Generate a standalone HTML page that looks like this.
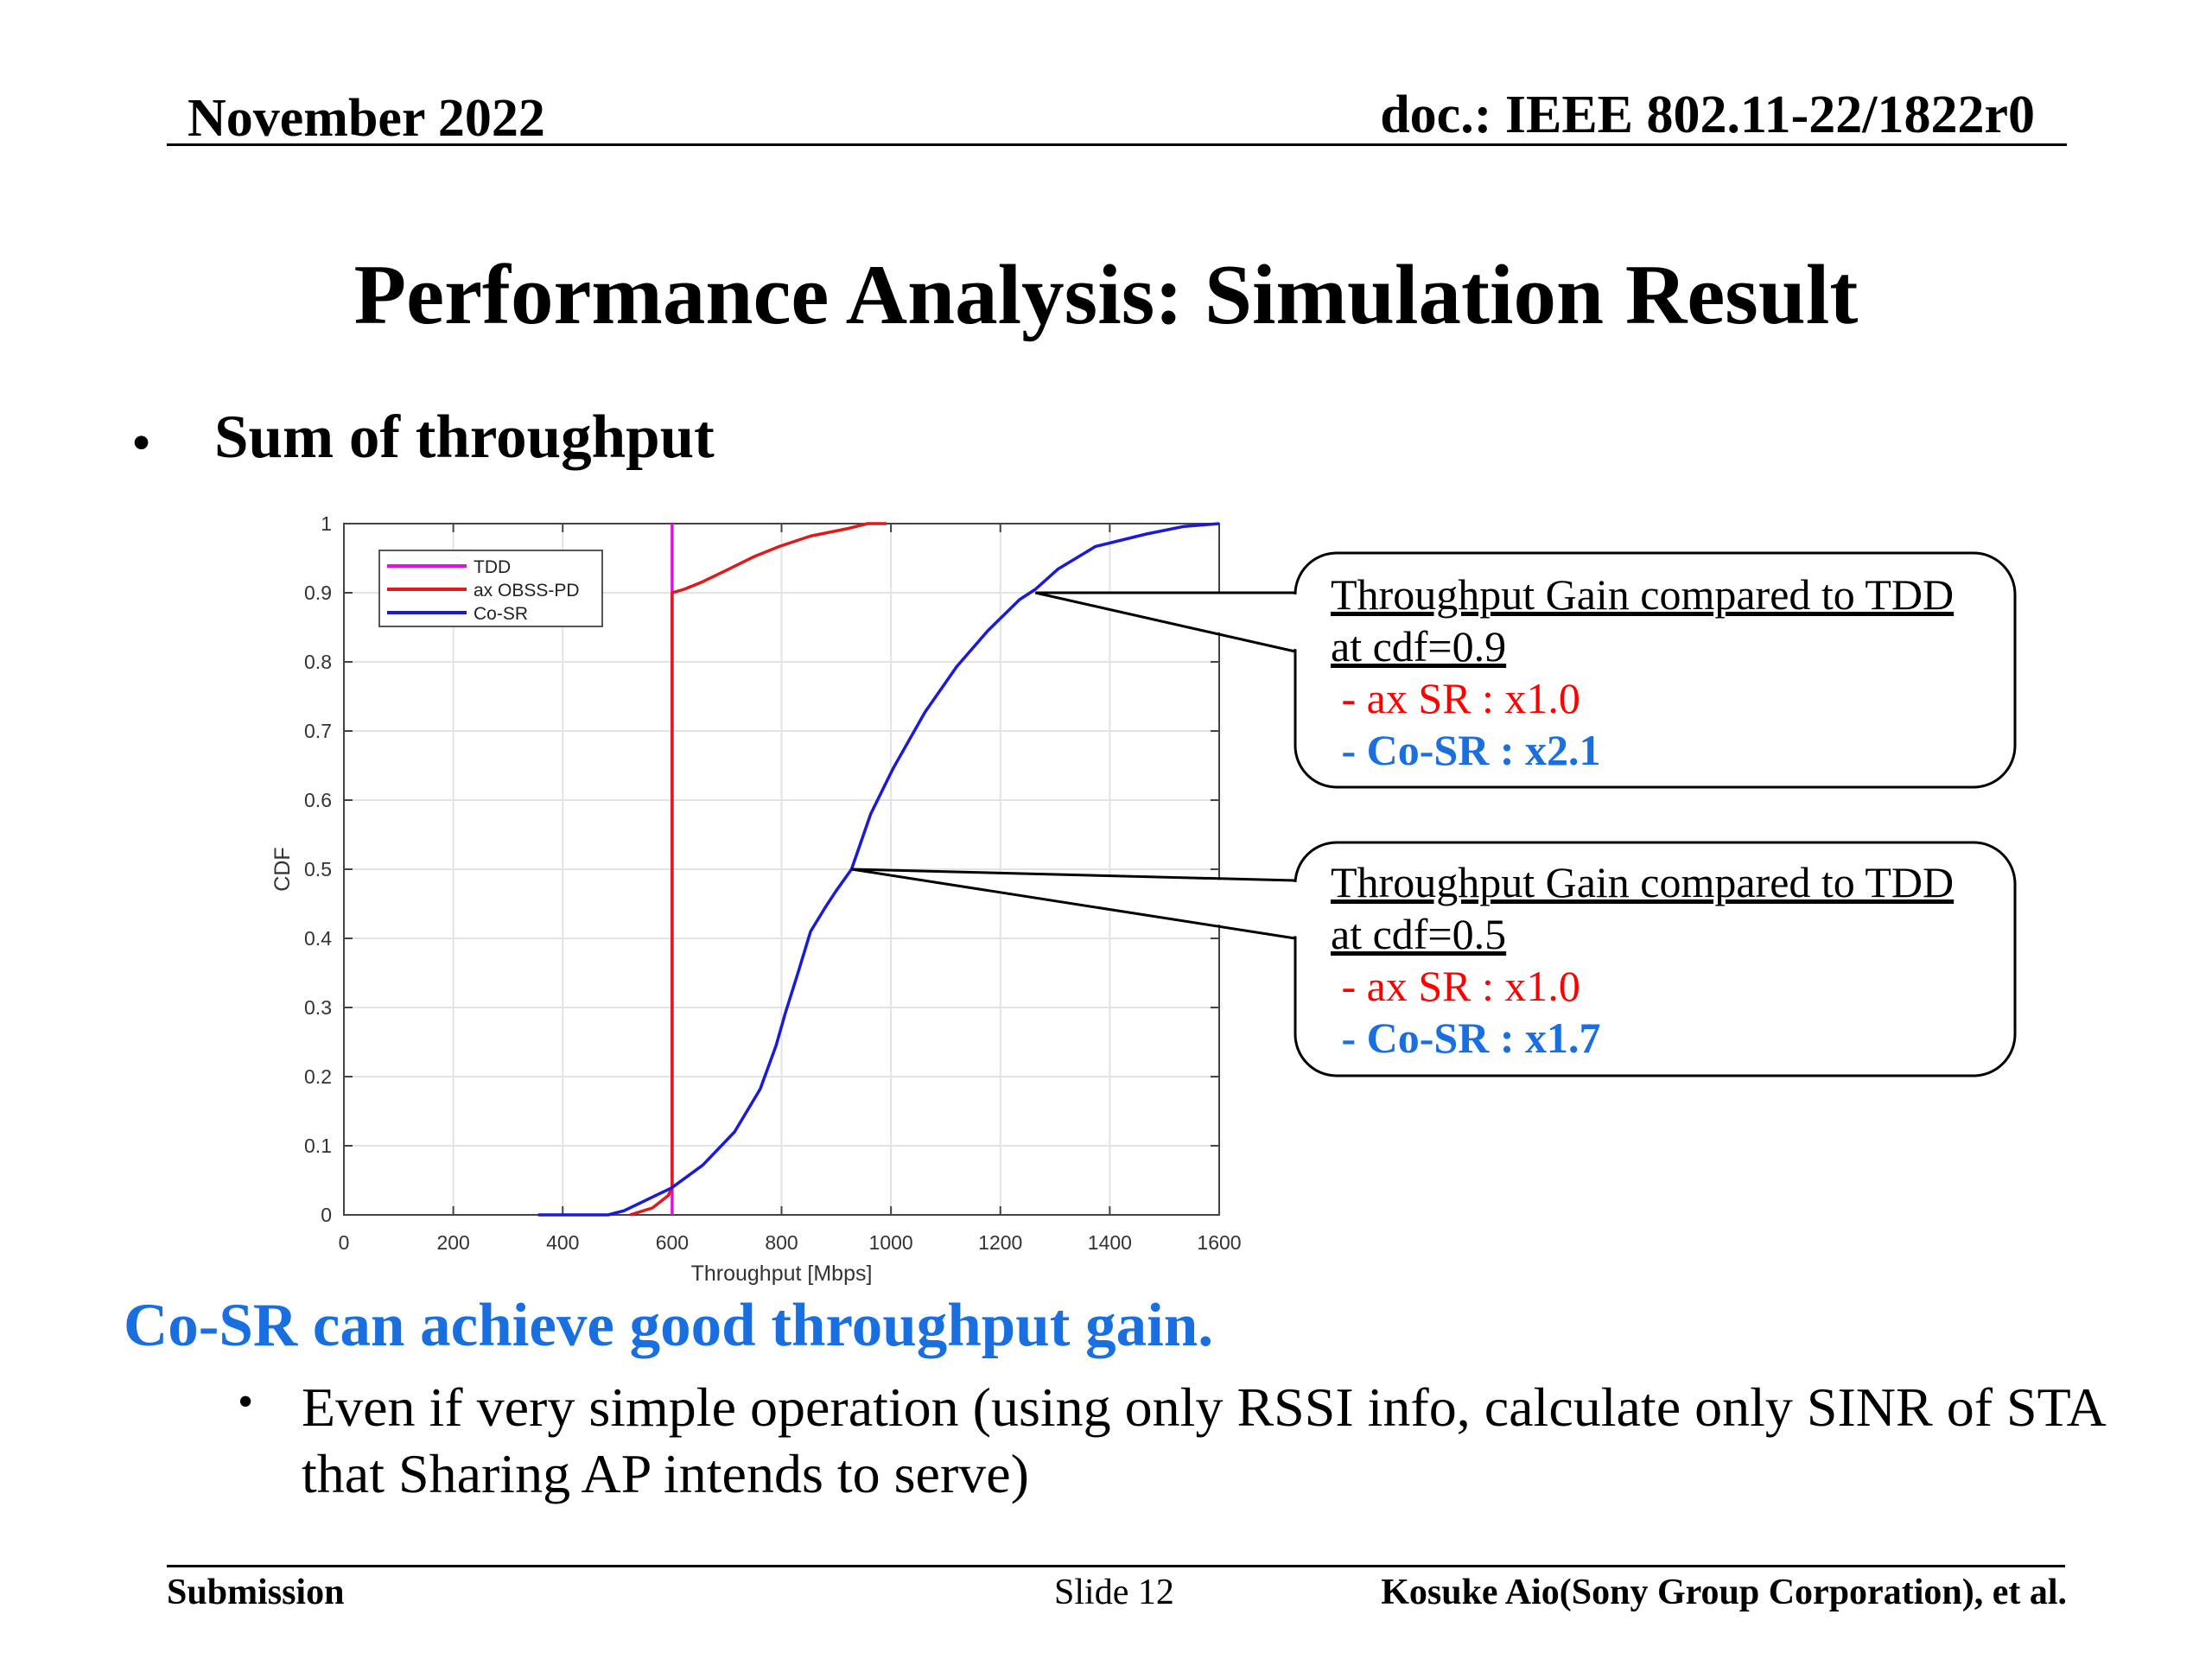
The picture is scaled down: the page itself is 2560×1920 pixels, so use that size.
<!DOCTYPE html>
<html><head><meta charset="utf-8">
<style>
html,body{margin:0;padding:0;background:#fff;}
body{width:2560px;height:1920px;position:relative;overflow:hidden;font-family:"Liberation Serif",serif;color:#000;}
.t{position:absolute;white-space:nowrap;line-height:1;}
svg{position:absolute;left:0;top:0;}
</style></head><body>
<div class="t" style="left:217px;top:106px;font-size:62px;font-weight:bold;">November 2022</div>
<div class="t" style="right:205px;top:102px;font-size:62px;font-weight:bold;">doc.: IEEE 802.11-22/1822r0</div>
<div style="position:absolute;left:193px;top:166px;width:2199px;height:3px;background:#000;"></div>
<div class="t" style="left:0;width:2560px;text-align:center;top:292px;font-size:99px;font-weight:bold;">Performance Analysis: Simulation Result</div>
<div class="t" style="left:152px;top:480px;font-size:66px;">•</div>
<div class="t" style="left:248px;top:471px;font-size:71px;font-weight:bold;">Sum of throughput</div>

<svg width="2560" height="1920" id="chart" font-family="Liberation Sans, sans-serif"></svg>

<div class="t" style="left:1540px;top:658px;font-size:50px;line-height:60px;">
<div style="text-decoration:underline;">Throughput Gain compared to TDD</div>
<div><span style="text-decoration:underline;">at cdf=0.9</span></div>
<div style="color:#f00;">&nbsp;- ax SR : x1.0</div>
<div style="color:#1a6fe0;font-weight:bold;">&nbsp;- Co-SR : x2.1</div>
</div>
<div class="t" style="left:1540px;top:991px;font-size:50px;line-height:60px;">
<div style="text-decoration:underline;">Throughput Gain compared to TDD</div>
<div><span style="text-decoration:underline;">at cdf=0.5</span></div>
<div style="color:#f00;">&nbsp;- ax SR : x1.0</div>
<div style="color:#1a6fe0;font-weight:bold;">&nbsp;- Co-SR : x1.7</div>
</div>

<div class="t" style="left:143px;top:1499px;font-size:71px;font-weight:bold;color:#1a6fe0;">Co-SR can achieve good throughput gain.</div>
<div class="t" style="left:275px;top:1597px;font-size:52px;">•</div>
<div class="t" style="left:349px;top:1590px;font-size:64px;line-height:77px;">Even if very simple operation (using only RSSI info, calculate only SINR of STA<br>that Sharing AP intends to serve)</div>

<div style="position:absolute;left:193px;top:1811px;width:2197px;height:3px;background:#000;"></div>
<div class="t" style="left:193px;top:1822px;font-size:42px;font-weight:bold;">Submission</div>
<div class="t" style="left:1220px;top:1822px;font-size:42px;">Slide 12</div>
<div class="t" style="right:168px;top:1822px;font-size:42px;font-weight:bold;">Kosuke Aio(Sony Group Corporation), et al.</div>

<script>
const xTicks=[0,200,400,600,800,1000,1200,1400,1600];
const yTicks=[0,0.1,0.2,0.3,0.4,0.5,0.6,0.7,0.8,0.9,1];
const tddX=[600,600];
const tddY=[0,1];
const obssX=[523,564,593,600,600,622,656,703,749,796,853,922,957,992];
const obssY=[0,0.01,0.028,0.04,0.9,0.905,0.916,0.934,0.952,0.967,0.982,0.993,1.0,1.0];
const cosrX=[355,483,512,541,599,656,714,761,790,807,830,853,880,900,928,963,1004,1062,1120,1177,1235,1264,1305,1374,1467,1536,1600];
const cosrY=[0,0,0.006,0.017,0.039,0.072,0.12,0.182,0.245,0.292,0.35,0.41,0.445,0.469,0.5,0.58,0.646,0.727,0.793,0.845,0.89,0.905,0.934,0.967,0.985,0.996,1.0];

const L=398,R=1411,T=606,B=1406;
const sx=v=>L+(v-0)/1600*(R-L);
const sy=v=>B-v*(B-T);
const svg=document.getElementById('chart');
const NS='http://www.w3.org/2000/svg';
function mk(tag,attrs){const e=document.createElementNS(NS,tag);for(const k in attrs)e.setAttribute(k,attrs[k]);svg.appendChild(e);return e;}

const bg=mk('rect',{x:L,y:T,width:R-L,height:B-T,fill:'#fff'});


xTicks.forEach(v=>{
  const g=mk('line',{x1:sx(v),x2:sx(v),y1:T,y2:B,stroke:'#e3e3e3','stroke-width':2});
  
  
  const tk=mk('line',{x1:sx(v),x2:sx(v),y1:B,y2:B-10,stroke:'#444','stroke-width':2});
  
  
  const tk2=mk('line',{x1:sx(v),x2:sx(v),y1:T,y2:T+10,stroke:'#444','stroke-width':2});
  
  
  const t=mk('text',{x:sx(v),y:B+40,'text-anchor':'middle','font-size':23,fill:'#333'});
  t.textContent=String(v);
  
  
});
yTicks.forEach(v=>{
  const g=mk('line',{x1:L,x2:R,y1:sy(v),y2:sy(v),stroke:'#e3e3e3','stroke-width':2});
  
  
  const tk=mk('line',{x1:L,x2:L+10,y1:sy(v),y2:sy(v),stroke:'#444','stroke-width':2});
  
  
  const tk2=mk('line',{x1:R,x2:R-10,y1:sy(v),y2:sy(v),stroke:'#444','stroke-width':2});
  
  
  const t=mk('text',{x:L-14,y:sy(v)+8,'text-anchor':'end','font-size':23,fill:'#333'});
  t.textContent=String(v);
  
  
});
const frame=mk('rect',{x:L,y:T,width:R-L,height:B-T,fill:'none',stroke:'#444','stroke-width':2});


const xl=mk('text',{x:(L+R)/2,y:B+76,'text-anchor':'middle','font-size':25,fill:'#333'});
xl.textContent='Throughput [Mbps]';


const yl=mk('text',{x:0,y:0,'text-anchor':'middle','font-size':25,fill:'#333',transform:'translate(335,'+sy(0.5)+') rotate(-90)'});
yl.textContent='CDF';



function pts(X,Y){return X.map((x,i)=>sx(x).toFixed(1)+','+sy(Y[i]).toFixed(1)).join(' ');}
const l1=mk('polyline',{points:pts(tddX,tddY),fill:'none',stroke:'#e010e0','stroke-width':3.5});


const l2=mk('polyline',{points:pts(obssX,obssY),fill:'none',stroke:'#e01a1a','stroke-width':3.5,'stroke-linejoin':'round'});


const l3=mk('polyline',{points:pts(cosrX,cosrY),fill:'none',stroke:'#1a1ad8','stroke-width':3.5,'stroke-linejoin':'round'});



const lg=mk('rect',{x:439,y:637,width:258,height:88,fill:'#fff',stroke:'#555','stroke-width':2});


[['TDD','#e010e0'],['ax OBSS-PD','#e01a1a'],['Co-SR','#1a1ad8']].forEach((e,i)=>{
  const y=655+i*27;
  const ln=mk('line',{x1:448,x2:540,y1:y,y2:y,stroke:e[1],'stroke-width':4});
  
  
  const t=mk('text',{x:548,y:y+8,'font-size':21,fill:'#222'});
  t.textContent=e[0];
  
  
});

function callout(y,h,py1,py2,tx,ty,name){
  const r=mk('rect',{x:1499,y:y,width:833,height:h,rx:48,ry:48,fill:'#fff',stroke:'#000','stroke-width':3});
  
  
  const c=mk('polygon',{points:`1503,${py1+2} ${tx+6},${ty} 1503,${py2-2}`,fill:'#fff'});
  
  
  const p=mk('polyline',{points:`1499,${py1} ${tx},${ty} 1499,${py2}`,fill:'none',stroke:'#000','stroke-width':3});
  
  
}
callout(640,271,686,754,sx(1264),sy(0.9),'callout-cdf-0-9');
callout(975,270,1019,1086,sx(928),sy(0.5),'callout-cdf-0-5');
</script>
</body></html>
